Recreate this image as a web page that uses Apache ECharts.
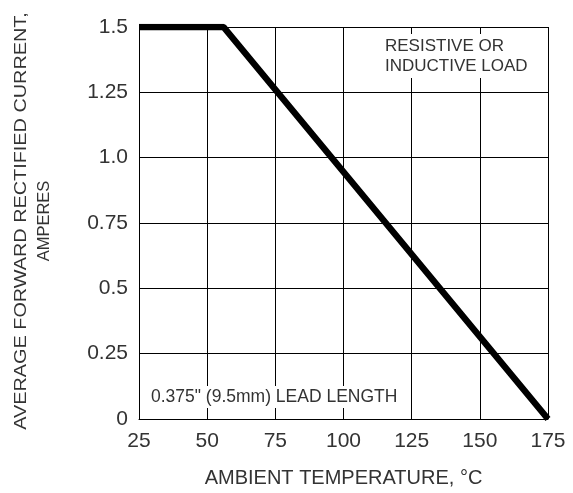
<!DOCTYPE html>
<html><head><meta charset="utf-8">
<script src="https://cdn.jsdelivr.net/npm/echarts@6/dist/echarts.min.js"></script>
<style>html,body{margin:0;padding:0;background:#fff}#c{width:573px;height:493px}</style>
</head><body><div id="c"></div>
<script>
const tempC = [25, 56, 175];
const currentA = [1.5, 1.5, 0];
const yTickLabels = {0:'0',0.25:'0.25',0.5:'0.5',0.75:'0.75',1:'1.0',1.25:'1.25',1.5:'1.5'};
const xAxisTitle = 'AMBIENT TEMPERATURE, °C';
const yAxisTitleLine1 = 'AVERAGE FORWARD RECTIFIED CURRENT,';
const yAxisTitleLine2 = 'AMPERES';
const noteTop = 'RESISTIVE OR\nINDUCTIVE LOAD';
const noteBottom = '0.375" (9.5mm) LEAD LENGTH';

const chart = echarts.init(document.getElementById('c'));
const font = 'Liberation Sans, Arial, sans-serif';
chart.setOption({
  animation: false,
  backgroundColor: '#fff',
  grid: {left: 139, right: 25, top: 27, bottom: 74},
  xAxis: {
    type: 'value', min: 25, max: 175, interval: 25,
    name: xAxisTitle, nameLocation: 'middle', nameGap: 49,
    nameTextStyle: {fontFamily: font, fontSize: 20, color: '#333'},
    axisLine: {show: true, lineStyle: {color: '#000', width: 1}},
    axisTick: {show: false},
    axisLabel: {fontFamily: font, fontSize: 21, color: '#333', margin: 12},
    splitLine: {show: true, lineStyle: {color: '#000', width: 1}}
  },
  yAxis: {
    type: 'value', min: 0, max: 1.5, interval: 0.25,
    axisLine: {show: true, lineStyle: {color: '#000', width: 1}},
    axisTick: {show: false},
    axisLabel: {fontFamily: font, fontSize: 21, color: '#333', margin: 11,
      formatter: v => yTickLabels[v] !== undefined ? yTickLabels[v] : String(v)},
    splitLine: {show: true, lineStyle: {color: '#000', width: 1}}
  },
  series: [{
    type: 'line', data: tempC.map((t, i) => [t, currentA[i]]),
    showSymbol: false, lineStyle: {color: '#000', width: 6.5}, z: 5
  }],
  graphic: [
    {type: 'text', x: 22, y: 221, rotation: Math.PI / 2, scaleX: 1.24, z: 10,
      style: {text: yAxisTitleLine1, font: '16px ' + font, fill: '#333',
        textAlign: 'center', textVerticalAlign: 'middle'}},
    {type: 'text', x: 44, y: 221, rotation: Math.PI / 2, z: 10,
      style: {text: yAxisTitleLine2, font: '16.5px ' + font, fill: '#333',
        textAlign: 'center', textVerticalAlign: 'middle'}},
    {type: 'text', left: 382, top: 34, z: 10,
      style: {text: noteTop, font: '17px ' + font, fill: '#333', lineHeight: 20,
        backgroundColor: '#fff', padding: [2, 3]}},
    {type: 'text', left: 148, top: 386, z: 10,
      style: {text: noteBottom, font: '17.5px ' + font, fill: '#333',
        backgroundColor: '#fff', padding: [2, 3]}}
  ]
});
</script></body></html>
